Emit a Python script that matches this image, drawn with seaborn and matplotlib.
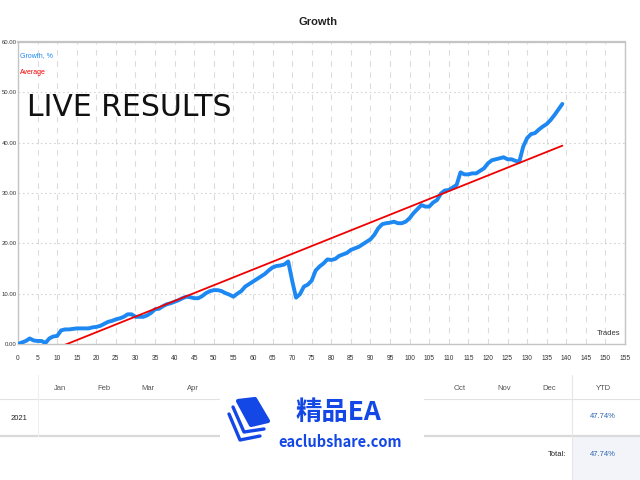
import numpy as np
import matplotlib
matplotlib.use("Agg")
import matplotlib.pyplot as plt
import seaborn as sns
from matplotlib.patches import Rectangle, Polygon

# Growth curve (one value per trade)
trades = list(range(140))
growth = [
    0.0, 0.3, 0.6, 1.1, 0.7, 0.6, 0.6, 0.2, 1.1, 1.5,
    1.6, 2.7, 2.9, 2.9, 3.0, 3.1, 3.1, 3.1, 3.1, 3.3,
    3.4, 3.6, 4.0, 4.4, 4.6, 4.9, 5.1, 5.4, 5.9, 5.9,
    5.4, 5.4, 5.4, 5.7, 6.2, 6.9, 7.0, 7.5, 7.9, 8.1,
    8.4, 8.7, 9.1, 9.4, 9.3, 9.1, 9.1, 9.5, 10.1, 10.5,
    10.7, 10.7, 10.5, 10.1, 9.8, 9.4, 10.0, 10.5, 11.4, 11.9,
    12.4, 12.9, 13.4, 13.9, 14.6, 15.2, 15.5, 15.6, 15.8, 16.4,
    12.6, 9.2, 9.9, 11.4, 11.8, 12.6, 14.6, 15.4, 16.0, 16.8,
    16.7, 16.9, 17.5, 17.8, 18.1, 18.7, 19.0, 19.3, 19.8, 20.3,
    20.8, 21.7, 23.0, 23.8, 24.0, 24.1, 24.3, 24.0, 24.0, 24.3,
    25.0, 26.0, 26.8, 27.6, 27.3, 27.3, 28.1, 28.6, 29.9, 30.5,
    30.6, 31.1, 31.6, 34.1, 33.7, 33.7, 33.9, 33.9, 34.4, 34.9,
    35.9, 36.5, 36.7, 36.9, 37.1, 36.7, 36.7, 36.4, 36.2, 39.2,
    40.9, 41.7, 41.9, 42.6, 43.2, 43.7, 44.5, 45.5, 46.6, 47.7,
]

# Average (trend) line end points
avg_trades = [0, 139]
avg_values = [-3.9, 39.4]

# Table below the chart
months = ["Jan", "Feb", "Mar", "Apr", "May", "Jun",
          "Jul", "Aug", "Sep", "Oct", "Nov", "Dec"]
year_label = "2021"
ytd_value = "47.74%"
total_value = "47.74%"

x_ticks = list(range(0, 156, 5))
y_ticks = list(range(0, 61, 10))

sns.set_style("white")
plt.rcParams["font.family"] = ["Liberation Sans", "DejaVu Sans"]

fig = plt.figure(figsize=(6.4, 4.8), dpi=100)
ax = fig.add_axes([18 / 640, 136 / 480, 607 / 640, 302 / 480])

sns.lineplot(x=trades, y=growth, ax=ax, color="#1e88f2", lw=2.8,
             solid_joinstyle="round", zorder=4)
sns.lineplot(x=avg_trades, y=avg_values, ax=ax, color="#f00000", lw=1.3,
             zorder=5)

ax.set_xlim(0, 155)
ax.set_ylim(0, 60)
ax.set_xticks(x_ticks)
ax.set_yticks(y_ticks)
ax.set_yticklabels([f"{v:.2f}" for v in y_ticks])
ax.tick_params(axis="x", labelsize=4.8, pad=8, length=0, colors="#333333")
ax.tick_params(axis="y", labelsize=4.3, pad=1, length=0, colors="#333333")
ax.set_xlabel("")
ax.set_ylabel("")
ax.xaxis.grid(True, color="#dcdcdc", lw=0.8, linestyle=(0, (5, 5)))
ax.yaxis.grid(True, color="#d4d4d4", lw=0.8, linestyle=(0, (1.5, 2.5)))
ax.set_axisbelow(True)
for name, sp in ax.spines.items():
    sp.set_color("#c4c4c4")
    sp.set_linewidth(1.0)
ax.spines["top"].set_linewidth(1.6)

ax.text(0.004, 0.955, "Growth, %", transform=ax.transAxes, fontsize=5,
        color="#1e88f2", va="center")
ax.text(0.004, 0.9, "Average", transform=ax.transAxes, fontsize=5,
        color="#f00000", va="center")
ax.text(0.992, 0.036, "Trades", transform=ax.transAxes, fontsize=5.5,
        color="#333333", ha="right", va="center")

# overlay in pixel coordinates for title, banner text and table
ov = fig.add_axes([0, 0, 1, 1], zorder=6)
ov.set_xlim(0, 640)
ov.set_ylim(480, 0)
ov.axis("off")
ov.patch.set_alpha(0)

ov.text(318, 22, "Growth", fontsize=8, fontweight="bold", color="#222222",
        ha="center", va="center")
ov.text(27, 108, "LIVE RESULTS", fontsize=21.5, color="#111111",
        family="DejaVu Sans", ha="left", va="center")

# table
ov.plot([0, 640], [399, 399], color="#e2e2e2", lw=0.8)
ov.plot([0, 640], [436, 436], color="#dadada", lw=1.6)
ov.plot([38, 38], [375, 436], color="#efefef", lw=0.8)
ov.plot([572, 572], [375, 480], color="#e6e6e6", lw=0.8)
ov.add_patch(Rectangle((572, 437), 68, 43, color="#f2f4fa", lw=0))

month_x = [60, 104, 148, 193, 238, 282, 327, 371, 416, 460, 504, 549]
for mx, m in zip(month_x, months):
    ov.text(mx, 388, m, fontsize=5.5, color="#555555", ha="center", va="center")
ov.text(603, 388, "YTD", fontsize=5.5, color="#555555", ha="center", va="center")
ov.text(19, 418, year_label, fontsize=5.5, color="#222222", ha="center", va="center")
ov.text(603, 417, ytd_value, fontsize=5.5, color="#2a64b0", ha="center", va="center")
ov.text(566, 455, "Total:", fontsize=5.5, color="#222222", ha="right", va="center")
ov.text(603, 455, total_value, fontsize=5.5, color="#2a64b0", ha="center", va="center")

# watermark logo
ov.add_patch(Rectangle((220, 383), 204, 89, color="white", lw=0, zorder=8))
logo_blue = "#1448e6"
ov.add_patch(Polygon([(238, 401), (255, 399), (268, 421), (251, 425)],
                     closed=True, color=logo_blue, lw=3, joinstyle="round",
                     zorder=9))
ov.plot([233, 244, 264], [407, 432, 429], color=logo_blue, lw=2.4,
        solid_capstyle="round", solid_joinstyle="round", zorder=9)
ov.plot([229, 240, 260], [414, 440, 436], color=logo_blue, lw=2.4,
        solid_capstyle="round", solid_joinstyle="round", zorder=9)
ov.text(338, 412, "精品EA", fontsize=19, fontweight="bold", color=logo_blue,
        family=["Noto Sans CJK SC", "DejaVu Sans"], ha="center", va="center",
        zorder=9)
ov.text(340, 442, "eaclubshare.com", fontsize=10.5, fontweight="bold",
        color=logo_blue, family=["Noto Sans CJK SC", "DejaVu Sans"],
        ha="center", va="center", zorder=9)

fig.savefig("out.png", dpi=100)
